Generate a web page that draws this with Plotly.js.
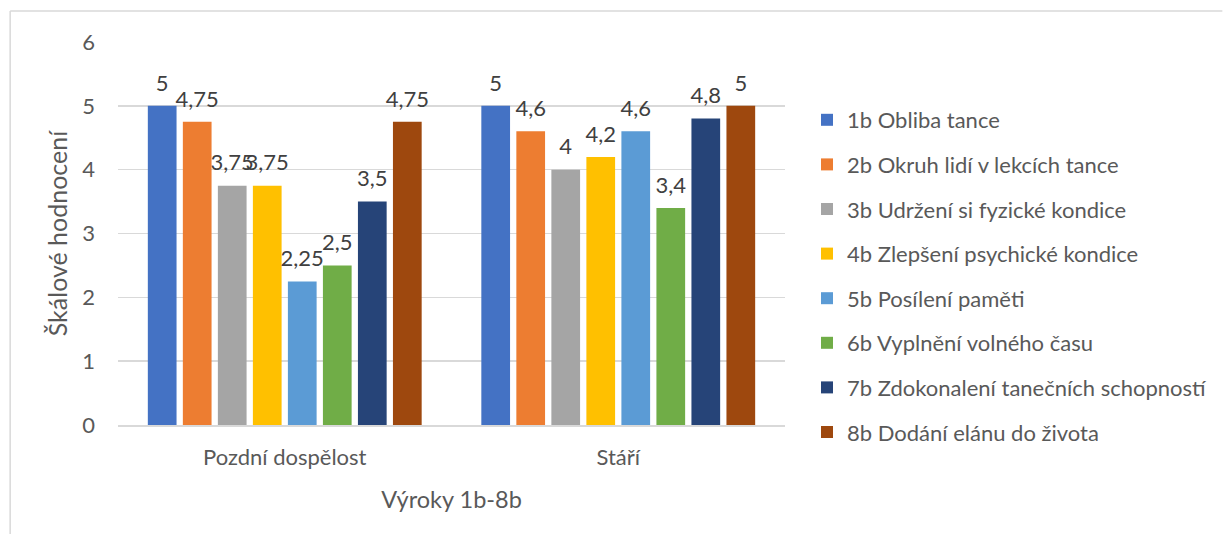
<!DOCTYPE html>
<html>
<head>
<meta charset="utf-8">
<script src="https://cdn.plot.ly/plotly-3.0.1.min.js"></script>
<style>html,body{margin:0;padding:0;background:#fff;}#chart{width:1224px;height:534px;}</style>
</head>
<body>
<div id="chart"></div>
<script>
const categories = ["Pozdní dospělost", "Stáří"];
const seriesNames = [
  "1b Obliba tance",
  "2b Okruh lidí v lekcích tance",
  "3b Udržení si fyzické kondice",
  "4b Zlepšení psychické kondice",
  "5b Posílení paměti",
  "6b Vyplnění volného času",
  "7b Zdokonalení tanečních schopností",
  "8b Dodání elánu do života"
];
const s1b = [5, 5];
const s2b = [4.75, 4.6];
const s3b = [3.75, 4];
const s4b = [3.75, 4.2];
const s5b = [2.25, 4.6];
const s6b = [2.5, 3.4];
const s7b = [3.5, 4.8];
const s8b = [4.75, 5];
const seriesValues = [s1b, s2b, s3b, s4b, s5b, s6b, s7b, s8b];
const colors = ["#4472C4", "#ED7D31", "#A5A5A5", "#FFC000", "#5B9BD5", "#70AD47", "#264478", "#9E480E"];
const yTicks = [0, 1, 2, 3, 4, 5, 6];

const FONT = "Lato, 'Open Sans', sans-serif";
const BARGAP = 0.16;

const barTraces = seriesNames.map((name, i) => ({
  type: "bar",
  name: name,
  x: categories,
  y: seriesValues[i],
  marker: {color: colors[i]},
  legendgroup: "g" + i,
  hoverinfo: "skip"
}));

const labelTraces = seriesNames.map((name, i) => ({
  type: "scatter",
  mode: "markers+text",
  name: name,
  x: categories,
  y: seriesValues[i],
  text: seriesValues[i].map(v => String(v).replace(".", ",")),
  textposition: "top center",
  textfont: {family: FONT, size: 22, color: "#404040"},
  marker: {size: 14, color: "rgba(0,0,0,0)"},
  cliponaxis: false,
  showlegend: false,
  legendgroup: "g" + i,
  hoverinfo: "skip"
}));

const W = 1224, H = 534;
const L = 118, R = 438, T = 42, B = 109;
const pw = W - L - R, ph = H - T - B;
const px = x => (x - L) / pw;
const py = y => (H - B - y) / ph;

const layout = {
  width: W, height: H,
  margin: {l: L, r: R, t: T, b: B, pad: 0},
  paper_bgcolor: "#fff",
  plot_bgcolor: "#fff",
  barmode: "group",
  bargap: BARGAP,
  bargroupgap: 0.18,
  scattermode: "group",
  scattergap: BARGAP,
  font: {family: FONT, color: "#595959", size: 22},
  showlegend: true,
  legend: {
    x: px(807), xanchor: "left",
    y: py(276), yanchor: "middle",
    font: {family: FONT, size: 22, color: "#595959"},
    traceorder: "grouped",
    tracegroupgap: 13,
    bgcolor: "rgba(0,0,0,0)"
  },
  xaxis: {
    type: "category",
    showgrid: false,
    showline: true,
    linecolor: "#D9D9D9",
    linewidth: 1.5,
    ticks: "",
    tickfont: {family: FONT, size: 22, color: "#595959"},
    ticklabelstandoff: 12,
    title: {text: "Výroky 1b-8b", font: {family: FONT, size: 23.5, color: "#595959"}, standoff: 22},
    fixedrange: true
  },
  yaxis: {
    range: [0, 6],
    tickvals: yTicks,
    ticktext: yTicks.map(String),
    showgrid: true,
    gridcolor: "#D9D9D9",
    gridwidth: 1.5,
    zeroline: false,
    showline: false,
    ticks: "",
    ticklabelstandoff: 22,
    tickfont: {family: FONT, size: 22, color: "#595959"},
    title: {text: "Škálové hodnocení", font: {family: FONT, size: 25, color: "#595959"}, standoff: 7},
    fixedrange: true
  },
  shapes: [
    {type: "line", xref: "paper", yref: "paper", x0: px(10), x1: px(1224), y0: py(11), y1: py(11), line: {color: "#D9D9D9", width: 1.5}},
    {type: "line", xref: "paper", yref: "paper", x0: px(10), x1: px(10), y0: py(11), y1: py(534), line: {color: "#D9D9D9", width: 1.5}}
  ]
};

Plotly.newPlot("chart", barTraces.concat(labelTraces), layout, {displayModeBar: false, staticPlot: true});
</script>
</body>
</html>
